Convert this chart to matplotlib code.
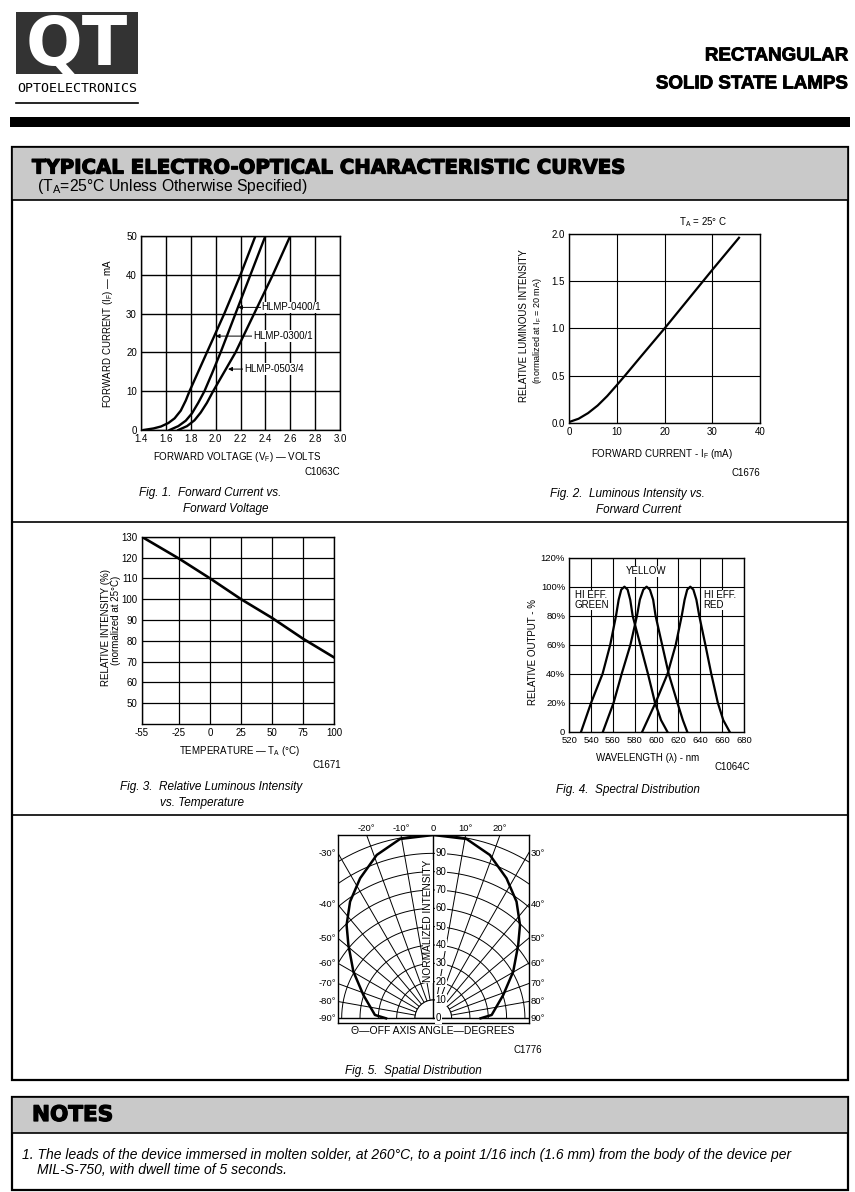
#!/usr/bin/env python3
"""Rebuild the QT rectangular lamp characteristic-curve sheet as one matplotlib page."""

import matplotlib

matplotlib.use("Agg")
import matplotlib.patheffects as pe
import matplotlib.pyplot as plt
import numpy as np
from matplotlib import font_manager
from matplotlib.patches import Rectangle, Wedge

# Fig. 1  forward current vs forward voltage
VF_0300 = [1.42, 1.50, 1.56, 1.62, 1.67, 1.72, 1.76, 1.79, 1.86, 1.93, 2.07, 2.20, 2.32]
IF_0300 = [0.0, 0.4, 0.9, 1.8, 3.0, 5.0, 7.6, 10.0, 15.0, 20.0, 30.0, 40.0, 50.0]
VF_0400 = [1.63, 1.70, 1.76, 1.81, 1.86, 1.91, 1.97, 2.04, 2.16, 2.28, 2.40]
IF_0400 = [0.0, 1.0, 2.4, 4.3, 7.0, 10.0, 14.5, 20.0, 30.0, 40.0, 50.0]
VF_0503 = [1.70, 1.77, 1.83, 1.88, 1.93, 1.98, 2.07, 2.16, 2.31, 2.46, 2.60]
IF_0503 = [0.0, 1.0, 2.5, 4.5, 7.0, 10.0, 15.0, 20.0, 30.0, 40.0, 50.0]
VF_TICKS = [1.4, 1.6, 1.8, 2.0, 2.2, 2.4, 2.6, 2.8, 3.0]
IF_TICKS = [0, 10, 20, 30, 40, 50]

# Fig. 2  relative luminous intensity vs forward current
IF_MA = [0.0, 2.0, 4.0, 6.0, 8.0, 10.0, 11.7, 15.0, 20.0, 25.0, 30.0, 35.6]
REL_LUM = [0.01, 0.045, 0.105, 0.185, 0.285, 0.40, 0.50, 0.70, 1.00, 1.31, 1.62, 1.96]
IF_MA_TICKS = [0, 10, 20, 30, 40]
REL_LUM_TICKS = [0.0, 0.5, 1.0, 1.5, 2.0]

# Fig. 3  relative intensity vs ambient temperature
TEMP_C = [-55, -25, 0, 25, 50, 75, 100]
REL_INT = [130, 119.5, 110, 100, 91, 81, 72]
REL_INT_TICKS = [50, 60, 70, 80, 90, 100, 110, 120, 130]

# Fig. 4  spectral distribution
GREEN_NM = [530.8, 540.0, 550.5, 557.5, 562.8, 565.2, 567.6, 570.5, 573.4, 575.8, 578.0, 585.0, 592.0, 598.5, 604.0, 609.8]
YELLOW_NM = [550.8, 560.6, 568.0, 576.0, 582.0, 584.6, 587.8, 590.8, 593.8, 596.8, 599.0, 605.0, 611.0, 619.0, 624.0, 628.0]
RED_NM = [586.8, 599.0, 610.0, 617.5, 623.0, 625.6, 628.0, 630.8, 633.6, 636.4, 639.0, 644.6, 650.0, 656.0, 661.0, 666.8]
SPECTRAL_OUT = [0, 20, 40, 60, 80, 91, 98, 100, 98, 91, 80, 60, 40, 20, 8, 0]
NM_TICKS = [520, 540, 560, 580, 600, 620, 640, 660, 680]
OUT_TICKS = [0, 20, 40, 60, 80, 100, 120]

# Fig. 5  spatial distribution (one half, mirrored)
SPATIAL_DEG = [0, 10.5, 19.1, 27.6, 35.5, 42.9, 49.2, 59.7, 71.6, 86.7, 90]
SPATIAL_INT = [100, 99.5, 94.3, 86.2, 78.2, 69.5, 61.2, 50.5, 40.2, 31.9, 25.8]
RADIAL_DEG = [-90, -80, -70, -60, -50, -40, -30, -20, -10, 0, 10, 20, 30, 40, 50, 60, 70, 80, 90]
RING_LEVELS = [10, 20, 30, 40, 50, 60, 70, 80, 90, 100]

W, H = 855, 1192
SANS = "Liberation Sans"
installed = {entry.name for entry in font_manager.fontManager.ttflist}
if "Liberation Sans Narrow" in installed:
    TITLE_FONT, TITLE_FS = "Liberation Sans Narrow", 15.5
else:
    TITLE_FONT, TITLE_FS = SANS, 13.5

plt.rcParams["font.family"] = [SANS, "DejaVu Sans"]
plt.rcParams["axes.unicode_minus"] = False
plt.rcParams["mathtext.fontset"] = "custom"
plt.rcParams["mathtext.rm"] = SANS
plt.rcParams["mathtext.it"] = SANS + ":italic"
plt.rcParams["mathtext.bf"] = SANS + ":bold"

fig = plt.figure(figsize=(W / 100, H / 100), dpi=100, facecolor="white")
page = fig.add_axes([0, 0, 1, 1])
page.set_xlim(0, W)
page.set_ylim(H, 0)
page.axis("off")

GRAY = "#c9c9c9"
HEAVY = [pe.withStroke(linewidth=0.9, foreground="black")]


def px_axes(x0, y0, x1, y1):
    return fig.add_axes([x0 / W, 1 - y1 / H, (x1 - x0) / W, (y1 - y0) / H])


def grid_axes(ax, grid_lw=0.9):
    ax.grid(True, color="black", linewidth=grid_lw)
    ax.set_axisbelow(True)
    for spine in ax.spines.values():
        spine.set_linewidth(1.0)
    ax.tick_params(length=0, labelsize=7, pad=3)


def caption(x, y, s):
    page.text(x, y, s, fontsize=8.5, style="italic", va="center")


# ---- page furniture ------------------------------------------------------
page.add_patch(Rectangle((16, 12), 122, 62, facecolor="#333333", edgecolor="none"))
page.text(77, 46, "QT", color="white", fontsize=48, fontweight="bold", family="DejaVu Sans",
          ha="center", va="center")
page.text(77, 88, "OPTOELECTRONICS", fontsize=9.6, family="DejaVu Sans Mono", ha="center", va="center")
page.plot([16, 138], [103, 103], color="black", lw=1.2)
page.text(848, 56, "RECTANGULAR", fontsize=TITLE_FS, fontweight="bold", family=TITLE_FONT,
          ha="right", va="center", path_effects=[pe.withStroke(linewidth=0.6, foreground="black")])
page.text(848, 84, "SOLID STATE LAMPS", fontsize=TITLE_FS, fontweight="bold", family=TITLE_FONT,
          ha="right", va="center", path_effects=[pe.withStroke(linewidth=0.6, foreground="black")])
page.add_patch(Rectangle((10, 117), 840, 10, facecolor="black", edgecolor="none"))

page.add_patch(Rectangle((12, 147), 836, 933, facecolor="none", edgecolor="black", lw=1.6))
page.add_patch(Rectangle((12, 147), 836, 53, facecolor=GRAY, edgecolor="black", lw=1.2))
page.text(32, 168, "TYPICAL ELECTRO-OPTICAL CHARACTERISTIC CURVES", fontsize=14.2, fontweight="bold",
          family="DejaVu Sans", va="center", path_effects=HEAVY)
page.text(37, 187, "(T$_\\mathrm{A}$=25°C Unless Otherwise Specified)", fontsize=11.3, va="center")
for y in (522, 815):
    page.plot([12, 848], [y, y], color="black", lw=1.2)

page.add_patch(Rectangle((12, 1097), 836, 93, facecolor="none", edgecolor="black", lw=1.6))
page.add_patch(Rectangle((12, 1097), 836, 36, facecolor=GRAY, edgecolor="black", lw=1.2))
page.text(32, 1115, "NOTES", fontsize=15.5, fontweight="bold", family="DejaVu Sans", va="center",
          path_effects=HEAVY)
page.text(22, 1155, "1. The leads of the device immersed in molten solder, at 260°C, to a point 1/16 inch (1.6 mm) "
          "from the body of the device per", fontsize=10, style="italic", va="center")
page.text(37, 1170, "MIL-S-750, with dwell time of 5 seconds.", fontsize=10, style="italic", va="center")

# ---- Fig. 1 ----------------------------------------------------------------
ax1 = px_axes(141, 236, 340, 430)
grid_axes(ax1, 1.0)
for vf, cur in ((VF_0300, IF_0300), (VF_0400, IF_0400), (VF_0503, IF_0503)):
    ax1.plot(vf, cur, color="black", lw=1.7, solid_joinstyle="round")
ax1.set_xlim(1.4, 3.0)
ax1.set_ylim(0, 50)
ax1.set_xticks(VF_TICKS, [f"{v:.1f}" for v in VF_TICKS])
ax1.set_yticks(IF_TICKS)
arrow = dict(arrowstyle="-|>", color="black", lw=0.7, mutation_scale=6, shrinkA=0, shrinkB=0)
label_box = dict(facecolor="white", edgecolor="none", pad=0.6)
for name, tip, start in (("HLMP-0400/1", (2.18, 31.6), (2.37, 31.6)),
                         ("HLMP-0300/1", (2.00, 24.2), (2.30, 24.2)),
                         ("HLMP-0503/4", (2.10, 15.7), (2.23, 15.7))):
    ax1.annotate(name, xy=tip, xytext=start, fontsize=7, va="center", ha="left",
                 bbox=label_box, arrowprops=arrow)
page.text(108, 333, "FORWARD CURRENT (I$_\\mathrm{F}$) — mA", fontsize=7, rotation=90, ha="center", va="center")
page.text(237, 457, "FORWARD VOLTAGE (V$_\\mathrm{F}$) — VOLTS", fontsize=7, ha="center", va="center")
page.text(340, 472, "C1063C", fontsize=7, ha="right", va="center")
caption(139, 493, "Fig. 1.  Forward Current vs.")
caption(183, 509, "Forward Voltage")

# ---- Fig. 2 ----------------------------------------------------------------
ax2 = px_axes(569, 234, 760, 423)
grid_axes(ax2, 0.8)
ax2.plot(IF_MA, REL_LUM, color="black", lw=1.6, solid_joinstyle="round")
ax2.set_xlim(0, 40)
ax2.set_ylim(0, 2.0)
ax2.set_xticks(IF_MA_TICKS)
ax2.set_yticks(REL_LUM_TICKS, [f"{v:.1f}" for v in REL_LUM_TICKS])
page.text(703, 222, "T$_\\mathrm{A}$ = 25° C", fontsize=7, ha="center", va="center")
page.text(524, 326, "RELATIVE LUMINOUS INTENSITY", fontsize=7, rotation=90, ha="center", va="center")
page.text(537, 331, "(normalized at I$_\\mathrm{F}$ = 20 mA)", fontsize=6.5, rotation=90, ha="center", va="center")
page.text(662, 454, "FORWARD CURRENT - I$_\\mathrm{F}$ (mA)", fontsize=7, ha="center", va="center")
page.text(760, 473, "C1676", fontsize=7, ha="right", va="center")
caption(550, 494, "Fig. 2.  Luminous Intensity vs.")
caption(596, 510, "Forward Current")

# ---- Fig. 3 ----------------------------------------------------------------
ax3 = px_axes(141.7, 536.7, 334, 724)
grid_axes(ax3, 0.9)
ax3.plot(TEMP_C, REL_INT, color="black", lw=1.9)
ax3.set_xlim(-55, 100)
ax3.set_ylim(40, 130)
ax3.set_xticks(TEMP_C)
ax3.set_yticks(REL_INT_TICKS)
page.text(106, 627, "RELATIVE INTENSITY (%)", fontsize=7, rotation=90, ha="center", va="center")
page.text(116, 620, "(normalized at 25°C)", fontsize=7, rotation=90, ha="center", va="center")
page.text(240, 751, "TEMPERATURE — T$_\\mathrm{A}$ (°C)", fontsize=7, ha="center", va="center")
page.text(341, 765, "C1671", fontsize=7, ha="right", va="center")
caption(120, 787, "Fig. 3.  Relative Luminous Intensity")
caption(160, 803, "vs. Temperature")

# ---- Fig. 4 ----------------------------------------------------------------
ax4 = px_axes(569.3, 557.7, 744, 731.7)
grid_axes(ax4, 0.8)
for nm in (GREEN_NM, YELLOW_NM, RED_NM):
    ax4.plot(nm, SPECTRAL_OUT, color="black", lw=1.6, solid_joinstyle="round")
ax4.set_xlim(520, 680)
ax4.set_ylim(0, 120)
ax4.set_xticks(NM_TICKS)
ax4.set_yticks(OUT_TICKS, ["0"] + [f"{v}%" for v in OUT_TICKS[1:]])
ax4.tick_params(labelsize=6.8)
tag_box = dict(facecolor="white", edgecolor="none", pad=0.3)
ax4.text(590.5, 110.5, "YELLOW", fontsize=7, ha="center", va="center", bbox=tag_box)
ax4.text(525, 97.5, "HI EFF.\nGREEN", fontsize=7, ha="left", va="top", linespacing=0.95, bbox=tag_box)
ax4.text(643, 97.5, "HI EFF.\nRED", fontsize=7, ha="left", va="top", linespacing=0.95, bbox=tag_box)
page.text(533, 652, "RELATIVE OUTPUT - %", fontsize=7, rotation=90, ha="center", va="center")
page.text(648, 758, "WAVELENGTH (λ) - nm", fontsize=7, ha="center", va="center")
page.text(750, 767, "C1064C", fontsize=7, ha="right", va="center")
caption(556, 790, "Fig. 4.  Spectral Distribution")

# ---- Fig. 5 ----------------------------------------------------------------
ax5 = px_axes(338, 835, 528.6, 1022.9)
ax5.set_xlim(-52, 52)
ax5.set_ylim(-2.5, 100)
ax5.set_xticks([])
ax5.set_yticks([])
for spine in ax5.spines.values():
    spine.set_linewidth(1.0)
sweep = np.radians(np.linspace(-90, 90, 361))
for level in RING_LEVELS:
    ax5.plot(level * np.sin(sweep), level * np.cos(sweep), color="black", lw=0.7)
for deg in RADIAL_DEG:
    theta = np.radians(deg)
    ax5.plot([10 * np.sin(theta), 200 * np.sin(theta)], [10 * np.cos(theta), 200 * np.cos(theta)],
             color="black", lw=0.7)
ax5.add_patch(Wedge((0, 0), 10, 0, 180, facecolor="white", edgecolor="black", lw=0.7, zorder=3))
ax5.plot([-60, 60], [0, 0], color="black", lw=1.0, zorder=4)
ax5.plot([0, 0], [0, 100], color="black", lw=1.0, zorder=4)
half = np.radians(SPATIAL_DEG)
level_curve = np.asarray(SPATIAL_INT)
angles = np.concatenate([-half[::-1], half[1:]])
levels = np.concatenate([level_curve[::-1], level_curve[1:]])
ax5.plot(levels * np.sin(angles), levels * np.cos(angles), color="black", lw=1.8, zorder=5,
         solid_joinstyle="round")
num_box = dict(facecolor="white", edgecolor="none", pad=0.4)
for value in [0] + RING_LEVELS[:-1]:
    ax5.text(1.3, value, str(value), fontsize=7, ha="left", va="center", bbox=num_box, zorder=6)
ax5.text(-2.9, 53, "NORMALIZED INTENSITY", fontsize=7.3, rotation=90, ha="center", va="center",
         bbox=dict(facecolor="white", edgecolor="none", pad=0.2), zorder=6)
for deg in RADIAL_DEG:
    theta = np.radians(abs(deg))
    tag = f"{deg}°" if deg else "0"
    if abs(deg) <= 20:
        ax5.text(100 * np.tan(np.radians(deg)), 101.0, tag, fontsize=6.8, ha="center", va="bottom", clip_on=False)
    else:
        side = 52 / np.tan(theta) if abs(deg) < 90 else 0.0
        if deg < 0:
            ax5.text(-53.2, side, tag, fontsize=6.8, ha="right", va="center", clip_on=False)
        else:
            ax5.text(53.2, side, tag, fontsize=6.8, ha="left", va="center", clip_on=False)
page.text(433, 1031, "Θ—OFF AXIS ANGLE—DEGREES", fontsize=7.5, ha="center", va="center")
page.text(542, 1050, "C1776", fontsize=7, ha="right", va="center")
caption(345, 1071, "Fig. 5.  Spatial Distribution")

fig.savefig("out.png", dpi=100, facecolor="white")
